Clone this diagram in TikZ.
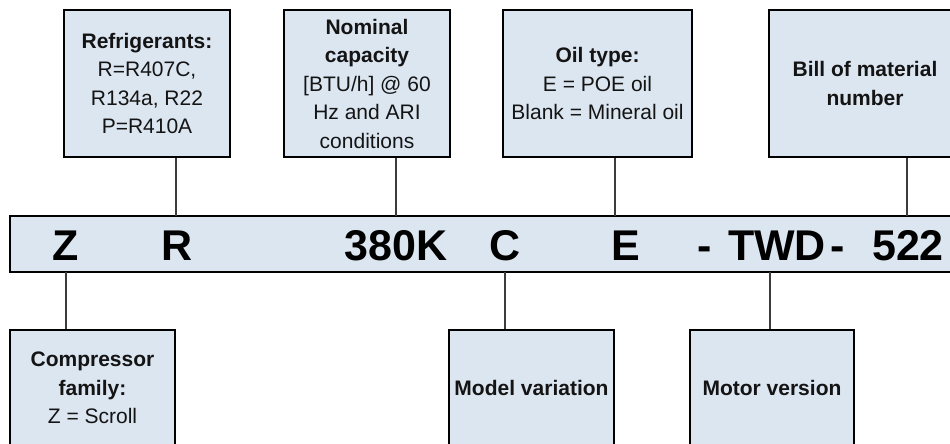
\documentclass[tikz,border=0pt]{standalone}
\usepackage{fontspec}
\setmainfont{Liberation Sans}
\definecolor{boxfill}{RGB}{220,230,241}
\definecolor{linegray}{RGB}{60,60,60}
\definecolor{txt}{RGB}{20,20,20}
\tikzset{
  infobox/.style={draw=black, line width=2pt, fill=boxfill, inner sep=0pt,
    minimum height=147pt, align=center, text=txt,
    font=\fontsize{21}{28.5}\selectfont},
  lowbox/.style={infobox, minimum height=116pt},
  codebar/.style={draw=black, line width=2pt, fill=boxfill, inner sep=0pt,
    minimum width=950pt, minimum height=56pt},
  codetxt/.style={anchor=base, inner sep=0pt, font=\fontsize{43}{43}\selectfont\bfseries},
  link/.style={draw=linegray, line width=1.1pt}
}
\begin{document}
\begin{tikzpicture}[x=1pt,y=-1pt]
\useasboundingbox (0,0) rectangle (950,444);
\clip (0,0) rectangle (950,444);
% code bar
\node[codebar] (bar) at (485,243.7) {};
\node[codetxt] (cZ) at (66,260) {Z};
\node[codetxt] (cR) at (177,260) {R};
\node[codetxt] (cK) at (396,260) {380K};
\node[codetxt] (cC) at (505,260) {C};
\node[codetxt] (cE) at (626,260) {E};
\node[codetxt] (cd1) at (705,260) {-};
\node[codetxt] (cT) at (777,260) {TWD};
\node[codetxt] (cd2) at (838,260) {-};
\node[codetxt] (c5) at (908,260) {522};
% top boxes
\node[infobox, minimum width=166pt] (refr) at (147,83.5)
  {\textbf{Refrigerants:}\\R=R407C,\\R134a, R22\\P=R410A};
\node[infobox, minimum width=166pt] (nom) at (367,83.5)
  {\textbf{Nominal}\\\textbf{capacity}\\{}[BTU/h] @ 60\\Hz and ARI\\conditions};
\node[infobox, minimum width=189pt] (oil) at (597.5,83.5)
  {\textbf{Oil type:}\\E = POE oil\\Blank = Mineral oil};
\node[infobox, minimum width=192pt] (bom) at (865,83.5)
  {\textbf{Bill of material}\\\textbf{number}};
% bottom boxes
\node[lowbox, minimum width=165pt] (fam) at (92.5,388)
  {\textbf{Compressor}\\\textbf{family:}\\Z = Scroll};
\node[lowbox, minimum width=165pt] (mv) at (531.5,388)
  {\textbf{Model variation}};
\node[lowbox, minimum width=164pt] (mot) at (772,388)
  {\textbf{Motor version}};
% connector anchor points on the bar
\coordinate (tR) at (176,215.7);
\coordinate (tK) at (396,215.7);
\coordinate (tE) at (615,215.7);
\coordinate (t5) at (907,215.7);
\coordinate (bZ) at (66,271.7);
\coordinate (bC) at (505,271.7);
\coordinate (bT) at (770,271.7);
% connectors
\draw[link] (tR) -- (tR |- refr.south);
\draw[link] (tK) -- (tK |- nom.south);
\draw[link] (tE) -- (tE |- oil.south);
\draw[link] (t5) -- (t5 |- bom.south);
\draw[link] (bZ) -- (bZ |- fam.north);
\draw[link] (bC) -- (bC |- mv.north);
\draw[link] (bT) -- (bT |- mot.north);
\end{tikzpicture}
\end{document}
